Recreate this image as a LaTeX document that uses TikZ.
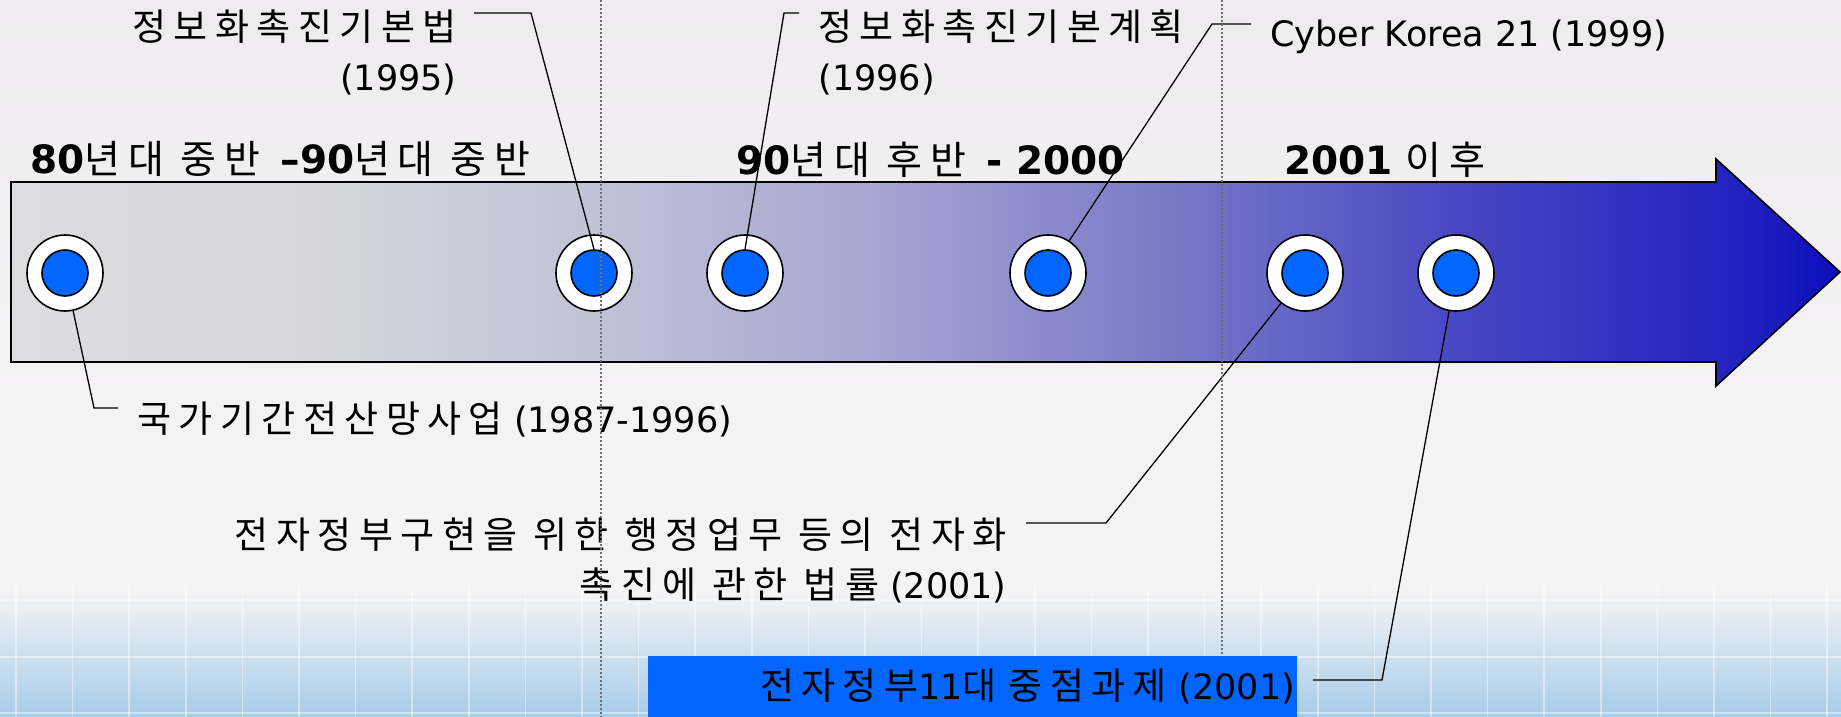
\documentclass[tikz,border=0pt]{standalone}
\usepackage{fontspec}
\setmainfont{DejaVu Sans}
\newfontfamily\kr[LetterSpace=20]{Noto Sans CJK KR}
\usepackage{tikz}
\definecolor{dotblue}{HTML}{0066FF}
\definecolor{bgtop}{RGB}{238,236,238}
\definecolor{bgmid}{RGB}{245,244,245}
\definecolor{bglow}{RGB}{166,204,232}
\definecolor{guidegray}{RGB}{110,110,110}
\definecolor{tbA}{RGB}{221,221,223}
\definecolor{tbB}{RGB}{215,215,220}
\definecolor{tbC}{RGB}{195,195,215}
\definecolor{tbD}{RGB}{165,165,210}
\definecolor{tbE}{RGB}{120,120,200}
\definecolor{tbF}{RGB}{70,70,195}
\definecolor{tbG}{RGB}{30,30,190}
\definecolor{tbH}{RGB}{12,12,188}
\pgfdeclareverticalshading{backdrop}{100bp}{color(0bp)=(bglow); color(25bp)=(bglow);
  color(33.8bp)=(bgmid); color(42bp)=(bgmid); color(75bp)=(bgtop); color(100bp)=(bgtop)}
\pgfdeclarehorizontalshading{timebar}{100bp}{color(0bp)=(tbA); color(25bp)=(tbA);
  color(32.7bp)=(tbB); color(40.7bp)=(tbC); color(48.7bp)=(tbD); color(56.8bp)=(tbE);
  color(64.8bp)=(tbF); color(72.8bp)=(tbG); color(75bp)=(tbH); color(100bp)=(tbH)}
\newcommand{\hg}[1]{{\kr\fontsize{18.5}{25}\selectfont #1}}
\newcommand{\hgera}[1]{{\kr\fontsize{19.5}{25}\selectfont #1}}

\begin{document}
\begin{tikzpicture}[x=0.5pt, y=-0.5pt,
ring/.style = {shape=circle, draw, line width=0.8pt, fill=white,
  inner sep=0pt, minimum size=38pt},
core/.style = {shape=circle, draw, line width=0.8pt, fill=dotblue,
  inner sep=0pt, minimum size=23pt},
era/.style = {inner sep=0pt, anchor=base west, font=\fontsize{19.5}{24}\selectfont},
note/.style = {inner sep=0pt, font=\fontsize{17.5}{25}\selectfont},
taskbox/.style = {fill=dotblue, inner xsep=1pt, inner ysep=0pt, text width=322.5pt,
  align=right, minimum height=30.5pt, font=\fontsize{17.5}{25}\selectfont},
lead/.style = {line width=0.65pt},
guide/.style = {draw=guidegray, line width=0.6pt, dash pattern=on 1pt off 1pt},
gridline/.style = {white, line width=0.75pt, opacity=0.45}
]
\useasboundingbox (0,0) rectangle (1841,717);
\shade[shading=backdrop] (0,0) rectangle (1841,717);
\foreach \gx in {0,...,32}
  \draw[gridline] ({16+56.6*\gx},585) -- ({16+56.6*\gx},717);
\foreach \gy in {600,657,713}
  \draw[gridline] (0,\gy) -- (1841,\gy);

% the time bar
\shadedraw[shading=timebar, line width=0.8pt] (11,182) -- (1716,182) -- (1716,159)
  -- (1840,272) -- (1716,386) -- (1716,362) -- (11,362) -- cycle;

\node[era] (eraA) at (30,173) {\textbf{80}\hgera{년대 중반} \textbf{–90}\hgera{년대 중반}};
\node[era] (eraB) at (736,175) {\textbf{90}\hgera{년대 후반} \textbf{- 2000}};
\node[era] (eraC) at (1284,175) {\textbf{2001} \hgera{이후}};

\node[ring] (net) at (65,273) {};      \node[core] at (net) {};
\node[ring] (law95) at (594,273) {};   \node[core] (law95c) at (law95) {};
\node[ring] (plan96) at (745,273) {};  \node[core] (plan96c) at (plan96) {};
\node[ring] (cyber) at (1048,273) {};  \node[core] at (cyber) {};
\node[ring] (law01) at (1305,273) {};  \node[core] at (law01) {};
\node[ring] (task01) at (1456,273) {}; \node[core] at (task01) {};

\node[note, align=right, anchor=east] (law95lab) at (457,52)
  {\hg{정보화촉진기본법}\\(1995)};
\node[note, align=left, anchor=west] (plan96lab) at (818,52)
  {\hg{정보화촉진기본계획}\\(1996)};
\node[note, anchor=west] (cyberlab) at (1270,37) {Cyber Korea 21 (1999)};
\node[note, anchor=west] (netlab) at (137,420) {\hg{국가기간전산망사업} (1987-1996)};
\node[note, align=right, anchor=east] (law01lab) at (1007,561)
  {\hg{전자정부구현을 위한 행정업무 등의 전자화}\\\hg{촉진에 관한 법률} (2001)};

\coordinate (k1) at (94,408);    \coordinate (k1e) at (118,408);
\coordinate (k2s) at (474,13);   \coordinate (k2) at (531,13);
\coordinate (k3s) at (799,13);   \coordinate (k3) at (784,13);
\coordinate (k4s) at (1251,24);  \coordinate (k4) at (1212,24);
\coordinate (k5s) at (1026,523); \coordinate (k5) at (1106,523);
\coordinate (k6s) at (1313,680); \coordinate (k6) at (1382,680);
\draw[lead] (net) -- (k1) -- (k1e);
\draw[lead] (k2s) -- (k2) -- (law95c.north);
\draw[lead] (k3s) -- (k3) -- (plan96c.north);
\draw[lead] (k4s) -- (k4) -- (cyber);
\draw[lead] (k5s) -- (k5) -- (law01);
\draw[lead] (k6s) -- (k6) -- (task01);

\draw[guide] (601,0) -- (601,717);
\draw[guide] (1222,0) -- (1222,717);

\node[taskbox] (task01lab) at (972.5,686.5)
  {\hg{전자정부}11\hg{대 중점과제} (2001)};
\end{tikzpicture}
\end{document}
